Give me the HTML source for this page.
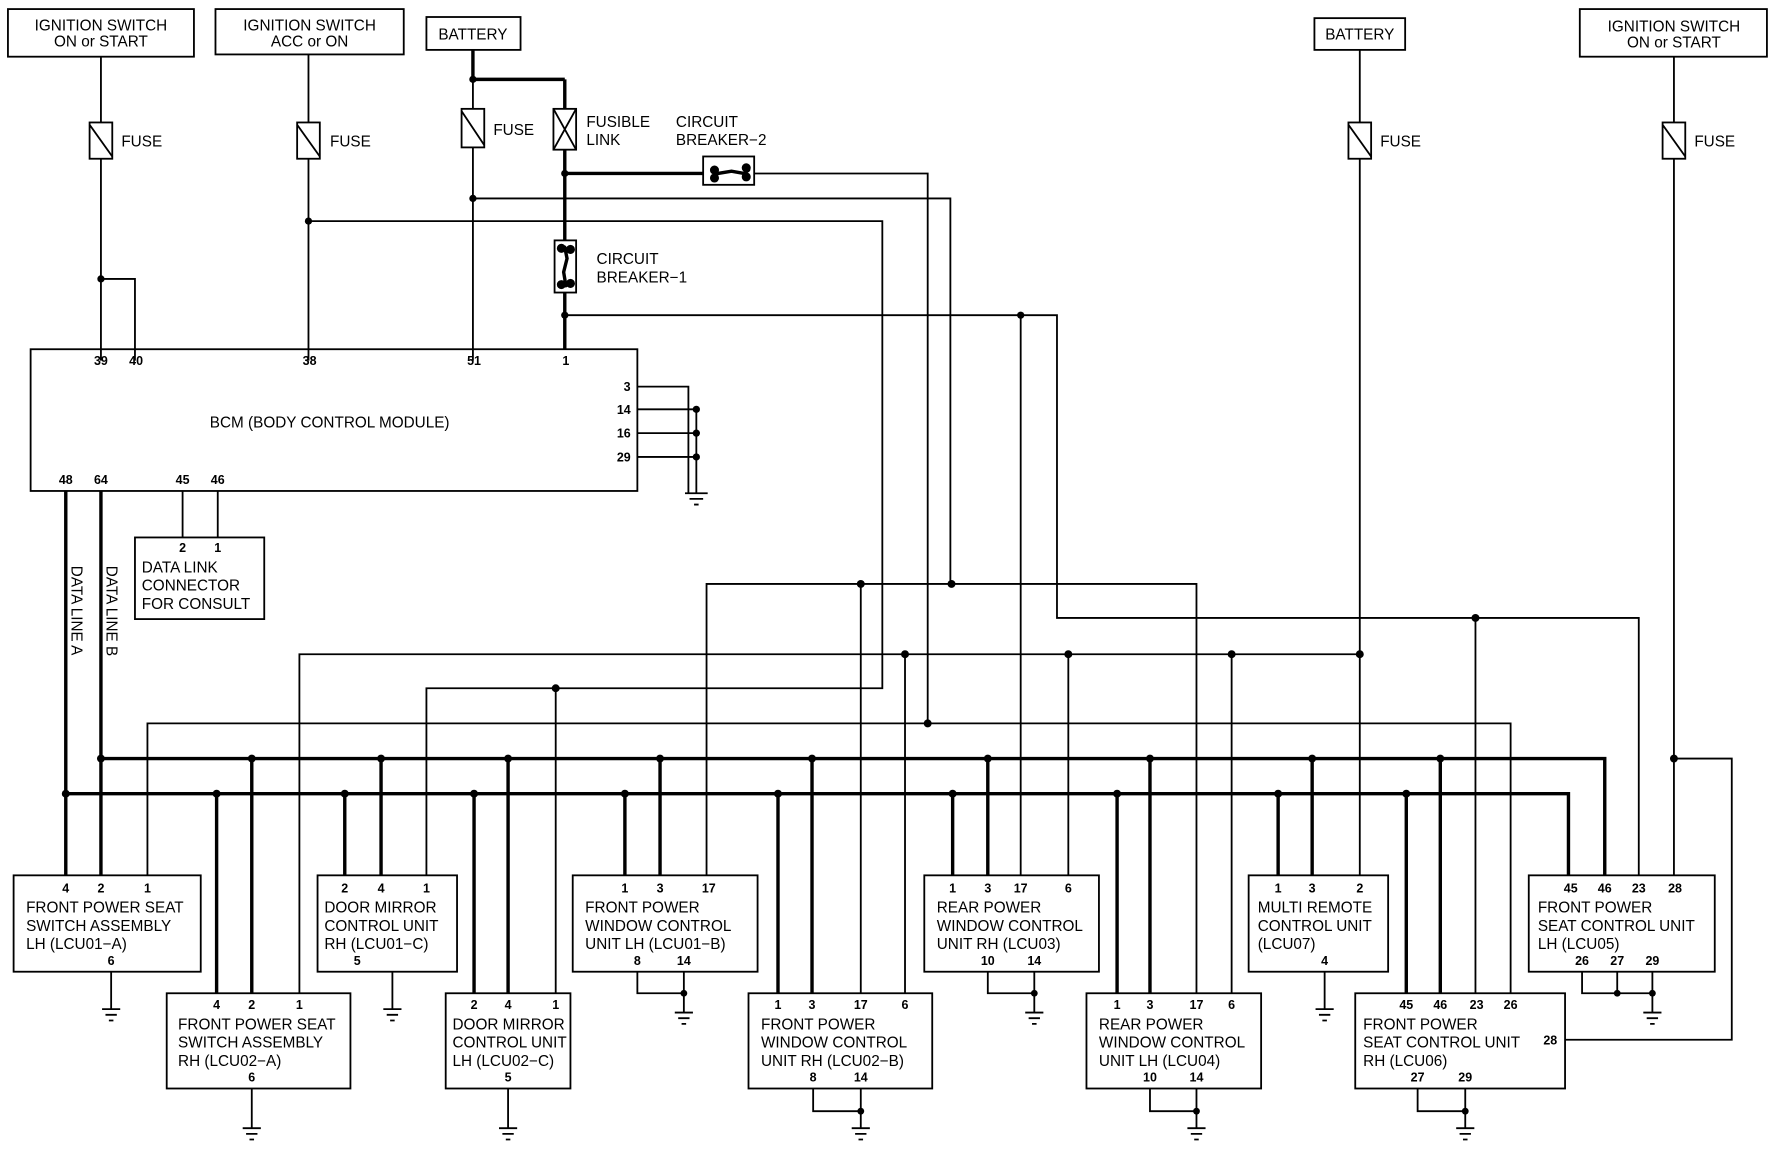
<!DOCTYPE html>
<html><head><meta charset="utf-8"><style>
html,body{margin:0;padding:0;background:#fff;}
svg{display:block;}
text{font-family:"Liberation Sans",sans-serif;font-size:13.5px;fill:#000;}
.p{font-size:11px;font-weight:bold;}
</style></head><body>
<svg width="1776" height="1152" viewBox="0 0 1566 1016" preserveAspectRatio="none" xmlns="http://www.w3.org/2000/svg">
<rect x="0" y="0" width="1566" height="1016" fill="#fff"/>
<g fill="none" stroke="#000" stroke-width="1.6">
<!-- top boxes -->
<rect x="7" y="8" width="164" height="42"/>
<rect x="190" y="8" width="166" height="40"/>
<rect x="376" y="15" width="83" height="29"/>
<rect x="1159" y="16" width="80" height="28"/>
<rect x="1393" y="8" width="165" height="42"/>
<!-- left ignition -->
<path d="M89 50V108M89 140V318M89 246H119V318"/>
<path d="M272 48V108M272 140V318M272 195H778V607H376V772"/>
<path d="M417 44V96M417 130V318M417 175H838V515"/>
<path d="M665 153H818V638"/>
<path d="M498 278H932V545H1445V772"/>
<path d="M900 278V772"/>
<!-- fuses -->
<rect x="79" y="108" width="20" height="32"/><path d="M79 110L99 138"/>
<rect x="262" y="108" width="20" height="32"/><path d="M262 110L282 138"/>
<rect x="407" y="96" width="20" height="34"/><path d="M407 98L427 128"/>
<rect x="1189" y="108" width="20" height="32"/><path d="M1189 110L1209 138"/>
<rect x="1466" y="108" width="20" height="32"/><path d="M1466 110L1486 138"/>
<rect x="488" y="96" width="20" height="36"/><path d="M488 96L508 132M508 96L488 132"/>
<rect x="620" y="138" width="45" height="25"/>
<rect x="489" y="212" width="19" height="46"/>
<!-- BCM -->
<rect x="27" y="308" width="535" height="125"/>
<path d="M562 341H607V435M562 361H614M562 382H614M562 403H614M614 361V435"/>
<path d="M604 435H624M608 440H620M612 445H616"/>
<path d="M161 433V474M192 433V474"/>
<rect x="119" y="474" width="114" height="72"/>
<!-- right battery / ignition -->
<path d="M1199 44V108M1199 140V772"/>
<path d="M1476 50V108M1476 140V772M1476 669H1527V917H1380"/>
<!-- mid wires -->
<path d="M623 772V515H1055V876"/>
<path d="M759 515V876"/>
<path d="M264 876V577H1199"/>
<path d="M798 577V876M942 577V772M1086 577V876"/>
<path d="M490 607V876"/>
<path d="M130 772V638H1332V876"/>
<path d="M1301 545V876"/>
<!-- device boxes -->
<rect x="12" y="772" width="165" height="85"/>
<rect x="147" y="876" width="162" height="84"/>
<rect x="280" y="772" width="123" height="85"/>
<rect x="393" y="876" width="110" height="84"/>
<rect x="505" y="772" width="163" height="85"/>
<rect x="660" y="876" width="162" height="84"/>
<rect x="815" y="772" width="154" height="85"/>
<rect x="958" y="876" width="154" height="84"/>
<rect x="1101" y="772" width="123" height="85"/>
<rect x="1195" y="876" width="185" height="84"/>
<rect x="1348" y="772" width="164" height="85"/>
<!-- grounds -->
<path d="M98 857V890M90 890H106M93 895H103M96 900H100"/>
<path d="M222 960V995M214 995H230M217 1000H227M220 1005H224"/>
<path d="M346 857V890M338 890H354M341 895H351M344 900H348"/>
<path d="M448 960V995M440 995H456M443 1000H453M446 1005H450"/>
<path d="M562 857V876H603M603 857V893M595 893H611M598 898H608M601 903H605"/>
<path d="M717 960V980H759M759 960V995M751 995H767M754 1000H764M757 1005H761"/>
<path d="M871 857V876H912M912 857V893M904 893H920M907 898H917M910 903H914"/>
<path d="M1014 960V980H1055M1055 960V995M1047 995H1063M1050 1000H1060M1053 1005H1057"/>
<path d="M1168 857V890M1160 890H1176M1163 895H1173M1166 900H1170"/>
<path d="M1250 960V980H1292M1292 960V995M1284 995H1300M1287 1000H1297M1290 1005H1294"/>
<path d="M1395 857V876H1457M1426 857V876M1457 857V893M1449 893H1465M1452 898H1462M1455 903H1459"/>
</g>
<!-- thick -->
<g fill="none" stroke="#000" stroke-width="3">
<path d="M417 70H498M498 70V96M498 132V212M498 258V308M498 153H620"/>
<path d="M58 433V772M89 433V772"/>
<path d="M89 669H1415V772"/>
<path d="M58 700H1383V772"/>
<path d="M222 669V876M336 669V772M448 669V876M582 669V772M716 669V876M871 669V772M1014 669V876M1157 669V772M1270 669V876"/>
<path d="M191 700V876M304 700V772M418 700V876M551 700V772M686 700V876M840 700V772M985 700V876M1127 700V772M1240 700V876"/>
<path d="M417 44V70"/>
</g>
<!-- breaker symbols -->
<g fill="#000" stroke="#000" stroke-width="3" stroke-linecap="round">
<path d="M628 150L633 153L645 151L656 153L660 150M628 157L633 153M660 157L656 153" fill="none"/>
<circle cx="630" cy="150" r="2.5"/><circle cx="630" cy="157" r="2.5"/><circle cx="658" cy="148" r="2.5"/><circle cx="658" cy="156" r="2.5"/>
<path d="M498 218L500 228L497 240L499 252" fill="none"/>
<circle cx="495" cy="219" r="2.5"/><circle cx="503" cy="220" r="2.5"/><circle cx="495" cy="251" r="2.5"/><circle cx="503" cy="250" r="2.5"/>
</g>
<!-- dots -->
<g fill="#000">
<circle cx="89" cy="246" r="3.2"/><circle cx="272" cy="195" r="3.2"/><circle cx="417" cy="70" r="3.2"/><circle cx="417" cy="175" r="3.2"/>
<circle cx="498" cy="153" r="3.2"/><circle cx="498" cy="278" r="3.2"/><circle cx="900" cy="278" r="3.2"/>
<circle cx="614" cy="361" r="3.2"/><circle cx="614" cy="382" r="3.2"/><circle cx="614" cy="403" r="3.2"/>
<circle cx="759" cy="515" r="3.5"/><circle cx="839" cy="515" r="3.5"/><circle cx="1301" cy="545" r="3.5"/>
<circle cx="798" cy="577" r="3.5"/><circle cx="942" cy="577" r="3.5"/><circle cx="1086" cy="577" r="3.5"/><circle cx="1199" cy="577" r="3.5"/>
<circle cx="490" cy="607" r="3.5"/><circle cx="818" cy="638" r="3.5"/><circle cx="1476" cy="669" r="3.5"/>
<circle cx="89" cy="669" r="3.5"/><circle cx="222" cy="669" r="3.5"/><circle cx="336" cy="669" r="3.5"/><circle cx="448" cy="669" r="3.5"/><circle cx="582" cy="669" r="3.5"/><circle cx="716" cy="669" r="3.5"/><circle cx="871" cy="669" r="3.5"/><circle cx="1014" cy="669" r="3.5"/><circle cx="1157" cy="669" r="3.5"/><circle cx="1270" cy="669" r="3.5"/>
<circle cx="58" cy="700" r="3.5"/><circle cx="191" cy="700" r="3.5"/><circle cx="304" cy="700" r="3.5"/><circle cx="418" cy="700" r="3.5"/><circle cx="551" cy="700" r="3.5"/><circle cx="686" cy="700" r="3.5"/><circle cx="840" cy="700" r="3.5"/><circle cx="985" cy="700" r="3.5"/><circle cx="1127" cy="700" r="3.5"/><circle cx="1240" cy="700" r="3.5"/>
<circle cx="603" cy="876" r="3"/><circle cx="759" cy="980" r="3"/><circle cx="912" cy="876" r="3"/><circle cx="1055" cy="980" r="3"/><circle cx="1292" cy="980" r="3"/><circle cx="1426" cy="876" r="3"/><circle cx="1457" cy="876" r="3"/>
</g>
<!-- labels -->
<g text-anchor="middle">
<text x="89" y="27">IGNITION SWITCH</text><text x="89" y="41">ON or START</text>
<text x="273" y="27">IGNITION SWITCH</text><text x="273" y="41">ACC or ON</text>
<text x="417" y="35">BATTERY</text><text x="1199" y="35">BATTERY</text>
<text x="1476" y="28">IGNITION SWITCH</text><text x="1476" y="42">ON or START</text>
</g>
<text x="107" y="129">FUSE</text><text x="291" y="129">FUSE</text><text x="435" y="119">FUSE</text>
<text x="1217" y="129">FUSE</text><text x="1494" y="129">FUSE</text>
<text x="517" y="112">FUSIBLE</text><text x="517" y="128">LINK</text>
<text x="596" y="112">CIRCUIT</text><text x="596" y="128">BREAKER−2</text>
<text x="526" y="233">CIRCUIT</text><text x="526" y="249">BREAKER−1</text>
<text x="185" y="377">BCM (BODY CONTROL MODULE)</text>
<g class="p" text-anchor="middle">
<text x="89" y="322" class="p">39</text><text x="120" y="322" class="p">40</text><text x="273" y="322" class="p">38</text><text x="418" y="322" class="p">51</text><text x="499" y="322" class="p">1</text>
<text x="553" y="345" class="p">3</text><text x="550" y="365" class="p">14</text><text x="550" y="386" class="p">16</text><text x="550" y="407" class="p">29</text>
<text x="58" y="427" class="p">48</text><text x="89" y="427" class="p">64</text><text x="161" y="427" class="p">45</text><text x="192" y="427" class="p">46</text>
<text x="161" y="487" class="p">2</text><text x="192" y="487" class="p">1</text>
</g>
<text x="125" y="505">DATA LINK</text><text x="125" y="521">CONNECTOR</text><text x="125" y="537">FOR CONSULT</text>
<text transform="translate(63,499) rotate(90)">DATA LINE A</text>
<text transform="translate(94,499) rotate(90)">DATA LINE B</text>
<!-- pin numbers on devices -->
<g text-anchor="middle" class="p">
<text x="58" y="787" class="p">4</text><text x="89" y="787" class="p">2</text><text x="130" y="787" class="p">1</text><text x="98" y="851" class="p">6</text>
<text x="191" y="890" class="p">4</text><text x="222" y="890" class="p">2</text><text x="264" y="890" class="p">1</text><text x="222" y="954" class="p">6</text>
<text x="304" y="787" class="p">2</text><text x="336" y="787" class="p">4</text><text x="376" y="787" class="p">1</text><text x="315" y="851" class="p">5</text>
<text x="418" y="890" class="p">2</text><text x="448" y="890" class="p">4</text><text x="490" y="890" class="p">1</text><text x="448" y="954" class="p">5</text>
<text x="551" y="787" class="p">1</text><text x="582" y="787" class="p">3</text><text x="625" y="787" class="p">17</text><text x="562" y="851" class="p">8</text><text x="603" y="851" class="p">14</text>
<text x="686" y="890" class="p">1</text><text x="716" y="890" class="p">3</text><text x="759" y="890" class="p">17</text><text x="798" y="890" class="p">6</text><text x="717" y="954" class="p">8</text><text x="759" y="954" class="p">14</text>
<text x="840" y="787" class="p">1</text><text x="871" y="787" class="p">3</text><text x="900" y="787" class="p">17</text><text x="942" y="787" class="p">6</text><text x="871" y="851" class="p">10</text><text x="912" y="851" class="p">14</text>
<text x="985" y="890" class="p">1</text><text x="1014" y="890" class="p">3</text><text x="1055" y="890" class="p">17</text><text x="1086" y="890" class="p">6</text><text x="1014" y="954" class="p">10</text><text x="1055" y="954" class="p">14</text>
<text x="1127" y="787" class="p">1</text><text x="1157" y="787" class="p">3</text><text x="1199" y="787" class="p">2</text><text x="1168" y="851" class="p">4</text>
<text x="1240" y="890" class="p">45</text><text x="1270" y="890" class="p">46</text><text x="1302" y="890" class="p">23</text><text x="1332" y="890" class="p">26</text><text x="1367" y="921" class="p">28</text><text x="1250" y="954" class="p">27</text><text x="1292" y="954" class="p">29</text>
<text x="1385" y="787" class="p">45</text><text x="1415" y="787" class="p">46</text><text x="1445" y="787" class="p">23</text><text x="1477" y="787" class="p">28</text><text x="1395" y="851" class="p">26</text><text x="1426" y="851" class="p">27</text><text x="1457" y="851" class="p">29</text>
</g>
<!-- device names -->
<text x="23" y="805">FRONT POWER SEAT</text><text x="23" y="821">SWITCH ASSEMBLY</text><text x="23" y="837">LH (LCU01−A)</text>
<text x="157" y="908">FRONT POWER SEAT</text><text x="157" y="924">SWITCH ASSEMBLY</text><text x="157" y="940">RH (LCU02−A)</text>
<text x="286" y="805">DOOR MIRROR</text><text x="286" y="821">CONTROL UNIT</text><text x="286" y="837">RH (LCU01−C)</text>
<text x="399" y="908">DOOR MIRROR</text><text x="399" y="924">CONTROL UNIT</text><text x="399" y="940">LH (LCU02−C)</text>
<text x="516" y="805">FRONT POWER</text><text x="516" y="821">WINDOW CONTROL</text><text x="516" y="837">UNIT LH (LCU01−B)</text>
<text x="671" y="908">FRONT POWER</text><text x="671" y="924">WINDOW CONTROL</text><text x="671" y="940">UNIT RH (LCU02−B)</text>
<text x="826" y="805">REAR POWER</text><text x="826" y="821">WINDOW CONTROL</text><text x="826" y="837">UNIT RH (LCU03)</text>
<text x="969" y="908">REAR POWER</text><text x="969" y="924">WINDOW CONTROL</text><text x="969" y="940">UNIT LH (LCU04)</text>
<text x="1109" y="805">MULTI REMOTE</text><text x="1109" y="821">CONTROL UNIT</text><text x="1109" y="837">(LCU07)</text>
<text x="1202" y="908">FRONT POWER</text><text x="1202" y="924">SEAT CONTROL UNIT</text><text x="1202" y="940">RH (LCU06)</text>
<text x="1356" y="805">FRONT POWER</text><text x="1356" y="821">SEAT CONTROL UNIT</text><text x="1356" y="837">LH (LCU05)</text>
</svg>
</body></html>
